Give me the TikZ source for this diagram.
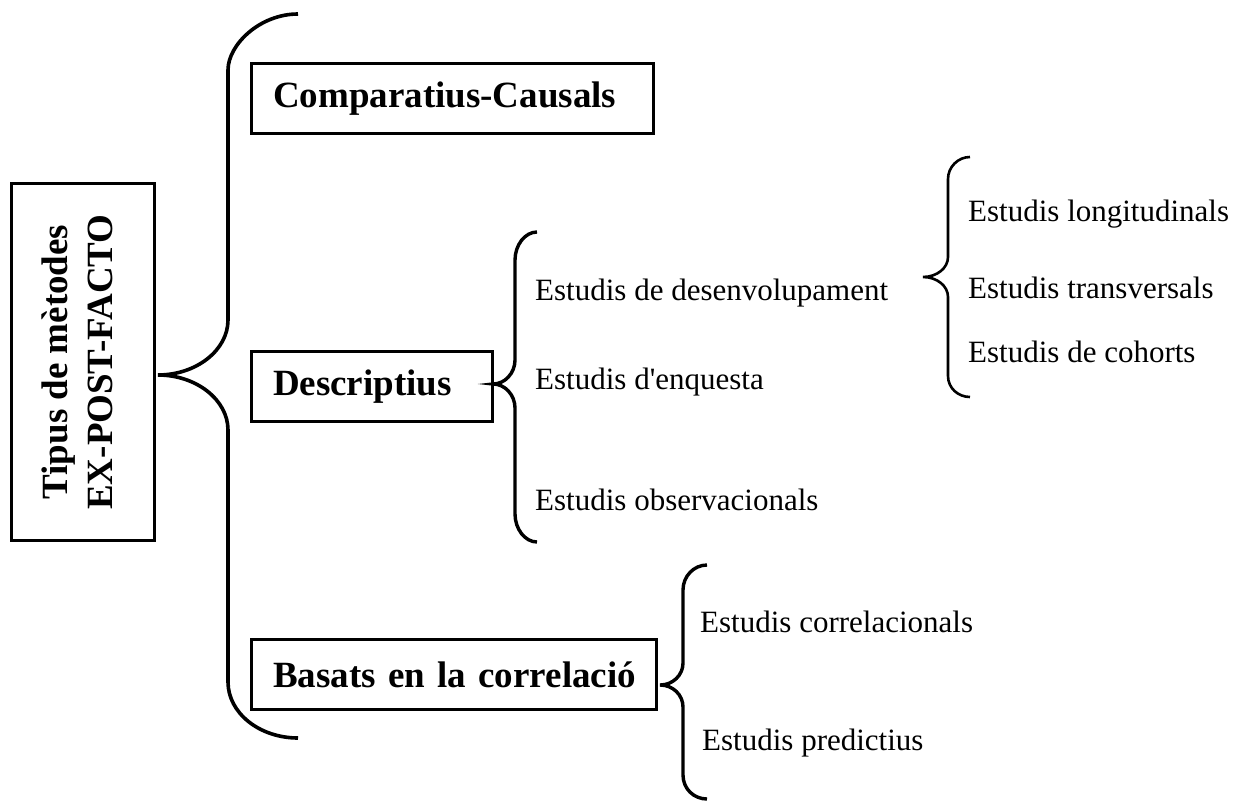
\documentclass[tikz,border=0pt]{standalone}
\usepackage{fontspec}
\setmainfont{Liberation Serif}
\begin{document}
\begin{tikzpicture}[x=1pt,y=-1pt,
  rootbox/.style={draw, line width=3pt, inner sep=0pt,
    minimum width=143pt, minimum height=357pt},
  roottext/.style={rotate=90, inner sep=0pt, align=center,
    font=\bfseries\fontsize{37}{45}\selectfont},
  catbox/.style={draw, line width=3pt, anchor=north west, inner xsep=21.5pt,
    inner ysep=0pt, align=left, minimum height=70pt,
    font=\bfseries\fontsize{37}{44}\selectfont},
  leaf/.style={anchor=base west, inner sep=0pt, font=\fontsize{31}{37}\selectfont},
  bigbrace/.style={line width=3.6pt},
  subbrace/.style={line width=3.4pt},
  thinbrace/.style={line width=2.6pt}]
\useasboundingbox (0,0) rectangle (1246,802);

% root and the three families of methods
\node[rootbox] (root) at (83,362) {};
\node[roottext] (rootlabel) at (77,362) {Tipus de mètodes\\EX-POST-FACTO};
\node[catbox, text width=359pt] (comp) at (250,62) {\mbox{Comparatius-Causals}};
\node[catbox, text width=198pt] (desc) at (250,350) {\mbox{Descriptius}};
\node[catbox, text width=362pt] (corr) at (250,638) {\mbox{Basats en la correlació}};

% leaves
\node[leaf] (desenv) at (535,300) {Estudis de desenvolupament};
\node[leaf] (enq) at (535,389) {Estudis d\textquotesingle enquesta};
\node[leaf] (obs) at (535,510) {Estudis observacionals};
\node[leaf] (longi) at (968,222) {Estudis longitudinals};
\node[leaf] (transv) at (968,298) {Estudis transversals};
\node[leaf] (coh) at (968,362) {Estudis de cohorts};
\node[leaf] (correl) at (700,632) {Estudis correlacionals};
\node[leaf] (pred) at (702,750) {Estudis predictius};

% brace tips
\coordinate (rootTip) at (158,375);
\coordinate (descTip) at (493,384);
\coordinate (devTip) at (923,277);
\coordinate (corrTip) at (660,685);

% root brace
\draw[bigbrace] (298,14) .. controls (259.5,14) and (228,45) .. (228,70)
  -- (228,320) .. controls (228,350) and (196.5,375) .. (rootTip)
  .. controls (196.5,375) and (228,400) .. (228,430)
  -- (228,682) .. controls (228,713) and (259.5,738) .. (298,738);

% descriptive studies brace
\draw[subbrace] (537,232) .. controls (525,232) and (515,245) .. (515,260)
  -- (515,360) .. controls (515,373) and (505,384) .. (descTip)
  .. controls (505,384) and (515,395) .. (515,408)
  -- (515,514) .. controls (515,529) and (525,542) .. (537,542);

% developmental studies brace
\draw[thinbrace] (970,157) .. controls (958,157) and (948,167) .. (948,179)
  -- (948,257) .. controls (948,268) and (937,277) .. (devTip)
  .. controls (937,277) and (948,286) .. (948,297)
  -- (948,376) .. controls (948,388) and (958,397) .. (970,397);

% correlational studies brace
\draw[subbrace] (707,565) .. controls (694,565) and (683,576) .. (683,590)
  -- (683,663) .. controls (683,675) and (673,685) .. (corrTip)
  .. controls (673,685) and (683,695) .. (683,707)
  -- (683,775) .. controls (683,789) and (694,799) .. (707,799);
\end{tikzpicture}
\end{document}
